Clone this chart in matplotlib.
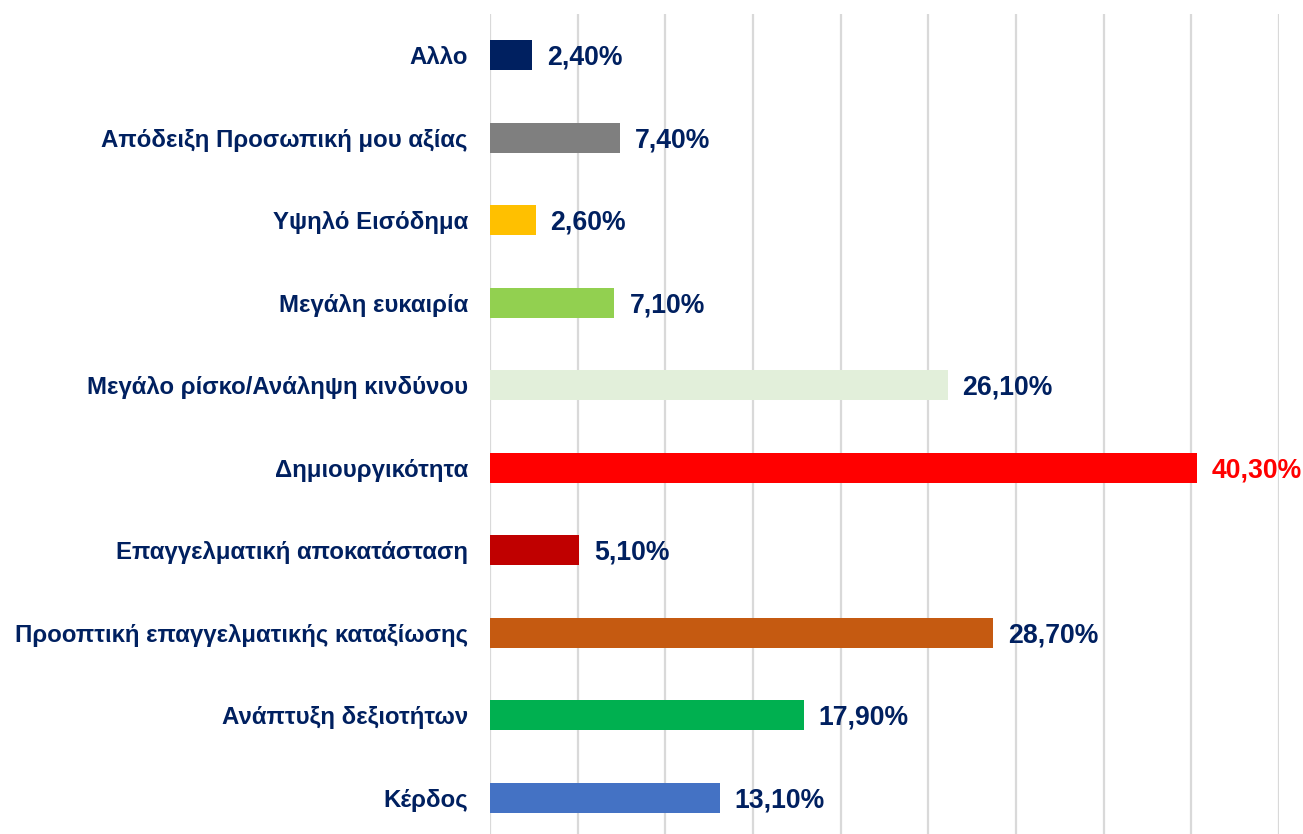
import matplotlib.pyplot as plt

# data, top to bottom as shown
labels = ["Αλλο", "Απόδειξη Προσωπική μου αξίας", "Υψηλό Εισόδημα", "Μεγάλη ευκαιρία",
          "Μεγάλο ρίσκο/Ανάληψη κινδύνου", "Δημιουργικότητα", "Επαγγελματική αποκατάσταση",
          "Προοπτική επαγγελματικής καταξίωσης", "Ανάπτυξη δεξιοτήτων", "Κέρδος"]
values = [2.4, 7.4, 2.6, 7.1, 26.1, 40.3, 5.1, 28.7, 17.9, 13.1]
bar_colors = ["#002060", "#7F7F7F", "#FFC000", "#92D050", "#E2EFDA",
              "#FF0000", "#C00000", "#C55A11", "#00B050", "#4472C4"]
label_colors = ["#002060"] * 5 + ["#FF0000"] + ["#002060"] * 4

navy = "#002060"
plt.rcParams['font.family'] = ['Liberation Sans', 'DejaVu Sans']

fig = plt.figure(figsize=(13.03, 8.34), dpi=100)
ax = fig.add_axes([490 / 1303, -5 / 834, (1279 - 490) / 1303, 825 / 834])

ypos = list(range(len(labels)))[::-1]
ax.barh(ypos, values, height=0.36, color=bar_colors, zorder=3)

for y, v, c in zip(ypos, values, label_colors):
    txt = ("%.2f" % v).replace(".", ",") + "%"
    ax.text(v + 0.85, y - 0.03, txt, va="center", ha="left", fontsize=19.2,
            fontweight="bold", color=c, clip_on=False)

ax.set_xlim(0, 45)
ax.set_ylim(-0.5, 9.5)
ax.set_xticks(range(0, 46, 5))
ax.set_xticklabels([])
ax.tick_params(axis="x", length=0)
ax.tick_params(axis="y", length=0, pad=16)
ax.set_yticks(ypos)
ax.set_yticklabels(labels, fontsize=17.3, fontweight="bold", color=navy)
ax.grid(axis="x", color="#D9D9D9", linewidth=1.6, zorder=0)
for s in ax.spines.values():
    s.set_visible(False)

fig.savefig("out.png", dpi=100)
